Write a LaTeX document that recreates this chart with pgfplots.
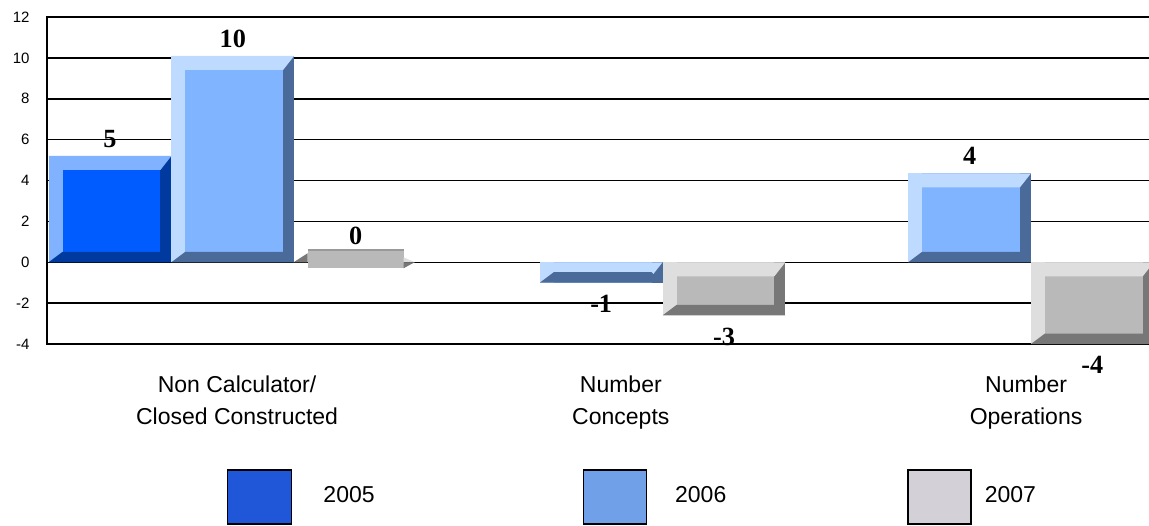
\documentclass[border=0pt]{standalone}
\usepackage{pgfplots}
\pgfplotsset{compat=1.18}
\usepackage{fontspec}
\setmainfont{Liberation Sans}
\newfontfamily\tnr{Liberation Serif}
\definecolor{aF}{HTML}{005CFF}\definecolor{aL}{HTML}{80B2FF}\definecolor{aD}{HTML}{003A9E}
\definecolor{bF}{HTML}{80B4FF}\definecolor{bL}{HTML}{BFDAFF}\definecolor{bD}{HTML}{4A6B9A}
\definecolor{cF}{HTML}{B9B9B9}\definecolor{cL}{HTML}{DEDEDE}\definecolor{cD}{HTML}{777777}
\definecolor{lgA}{HTML}{2056D8}\definecolor{lgB}{HTML}{70A0E8}\definecolor{lgC}{HTML}{D4D0D8}

% zero-valued bar drawn as a flat slab
\pgfdeclareplotmark{slab}{%
  \pgfpathrectangle{\pgfpoint{-19.2pt}{-2.4pt}}{\pgfpoint{38.4pt}{7.6pt}}%
  \pgfsetfillcolor{cF}\pgfusepath{fill}%
  \pgfpathrectangle{\pgfpoint{-19.2pt}{4.6pt}}{\pgfpoint{38.4pt}{0.6pt}}%
  \pgfsetfillcolor{gray!80}\pgfusepath{fill}%
  \pgfpathmoveto{\pgfpoint{-24.8pt}{0pt}}\pgfpathlineto{\pgfpoint{-19.2pt}{3.6pt}}%
  \pgfpathlineto{\pgfpoint{-19.2pt}{0pt}}\pgfpathclose
  \pgfsetfillcolor{cD}\pgfusepath{fill}%
  \pgfpathmoveto{\pgfpoint{19.2pt}{2.0pt}}\pgfpathlineto{\pgfpoint{23.6pt}{0pt}}%
  \pgfpathlineto{\pgfpoint{19.2pt}{0pt}}\pgfpathclose
  \pgfsetfillcolor{cL}\pgfusepath{fill}%
  \pgfpathmoveto{\pgfpoint{19.2pt}{0pt}}\pgfpathlineto{\pgfpoint{23.6pt}{0pt}}%
  \pgfpathlineto{\pgfpoint{19.2pt}{-2.4pt}}\pgfpathclose
  \pgfsetfillcolor{cD}\pgfusepath{fill}%
}
% bevel strips (bar width 49.12pt)
\pgfdeclareplotmark{bvtop}{%
  \pgfpathmoveto{\pgfpoint{-24.56pt}{0pt}}\pgfpathlineto{\pgfpoint{24.56pt}{0pt}}%
  \pgfpathlineto{\pgfpoint{20.16pt}{-5.6pt}}\pgfpathlineto{\pgfpoint{-18.96pt}{-5.6pt}}\pgfpathclose
  \pgfusepath{fill}}
\pgfdeclareplotmark{bvbot}{%
  \pgfpathmoveto{\pgfpoint{-24.56pt}{0pt}}\pgfpathlineto{\pgfpoint{24.56pt}{0pt}}%
  \pgfpathlineto{\pgfpoint{20.16pt}{4.2pt}}\pgfpathlineto{\pgfpoint{-18.96pt}{4.2pt}}\pgfpathclose
  \pgfusepath{fill}}

\tikzset{lblfont/.style={font=\tnr\bfseries\fontsize{10.5}{12}\selectfont, inner sep=0pt}}
\pgfplotsset{
  lblpos/.style={nodes near coords style={lblfont, anchor=south, yshift=3.2pt}},
  lblneg/.style={nodes near coords style={lblfont, anchor=north, yshift=-4.8pt}},
}
% #1 x, #2 value, #3 colour prefix, #4 label, #5 label style, #6 y of light edge, #7 y of dark edge
\newcommand\bevbar[7]{%
  \addplot[ybar, bar width=1, bar shift=0pt, fill=#3F, draw=none,
    nodes near coords, point meta=explicit symbolic, #5] coordinates {(#1,#2) [#4]};
  \addplot[ybar, bar width=5.6pt, bar shift=-21.76pt, fill=#3L, draw=none] coordinates {(#1,#2)};
  \addplot[ybar, bar width=4.4pt, bar shift=22.36pt, fill=#3D, draw=none] coordinates {(#1,#2)};
  \addplot[only marks, mark=bvtop, mark options={fill=#3L, draw=none}] coordinates {(#1,#6)};
  \addplot[only marks, mark=bvbot, mark options={fill=#3D, draw=none}] coordinates {(#1,#7)};
}

\begin{document}
\begin{tikzpicture}
\useasboundingbox (0,0) rectangle (459.6pt,210pt);
\begin{axis}[
  at={(18.8pt,72.4pt)}, anchor=south west,
  scale only axis, width=445.2pt, height=130.8pt,
  xmin=-0.513, xmax=8.551, ymin=-4, ymax=12,
  ytick={-4,-2,...,12},
  xtick={1.035,4.16,7.46},
  xticklabels={Non Calculator/\\Closed Constructed, Number\\Concepts, Number\\Operations},
  major tick length=0pt,
  ymajorgrids, grid style={black, line width=0.6pt},
  axis line style={black, line width=0.6pt},
  /pgf/number format/assume math mode=true,
  yticklabel style={font=\fontsize{6}{7}\selectfont, inner sep=0pt, xshift=-6.8pt},
  xticklabel style={font=\fontsize{9.2}{12.8}\selectfont, align=center, inner sep=0pt, yshift=-12.4pt},
  legend columns=3,
  legend style={draw=none, fill=none, inner sep=0pt, outer sep=0pt,
    at={(0.1617,-0.3823)}, anchor=north west,
    font=\fontsize{9.2}{11}\selectfont,
    nodes={inner sep=0pt},
    /tikz/column 1/.style={column sep=12.4pt},
    /tikz/column 2/.style={column sep=83.2pt},
    /tikz/column 3/.style={column sep=11.2pt},
    /tikz/column 4/.style={column sep=72.4pt},
    /tikz/column 5/.style={column sep=5.2pt}},
]
\addlegendimage{legend image code/.code={\draw[draw=black, line width=0.6pt, fill=lgA] (0pt,-10.8pt) rectangle (25.6pt,10.8pt);}}
\addlegendentry{2005}
\addlegendimage{legend image code/.code={\draw[draw=black, line width=0.6pt, fill=lgB] (0pt,-10.8pt) rectangle (25.2pt,10.8pt);}}
\addlegendentry{2006}
\addlegendimage{legend image code/.code={\draw[draw=black, line width=0.6pt, fill=lgC] (0pt,-10.8pt) rectangle (25.2pt,10.8pt);}}
\addlegendentry{2007}

% 2005
\bevbar{0}{5.2}{a}{5}{lblpos}{5.2}{0}
% 2006
\bevbar{1}{10.1}{b}{10}{lblpos}{10.1}{0}
\bevbar{4}{-1.0}{b}{-1}{lblneg}{0}{-1.0}
\bevbar{7}{4.35}{b}{4}{lblpos}{4.35}{0}
% 2007
\addplot[only marks, mark=slab, nodes near coords, point meta=explicit symbolic,
  nodes near coords style={lblfont, anchor=south, yshift=6.8pt}] coordinates {(2,0) [0]};
\bevbar{5}{-2.6}{c}{-3}{lblneg}{0}{-2.6}
\bevbar{8}{-4.0}{c}{-4}{lblneg}{0}{-4.0}
\end{axis}
\end{tikzpicture}
\end{document}
